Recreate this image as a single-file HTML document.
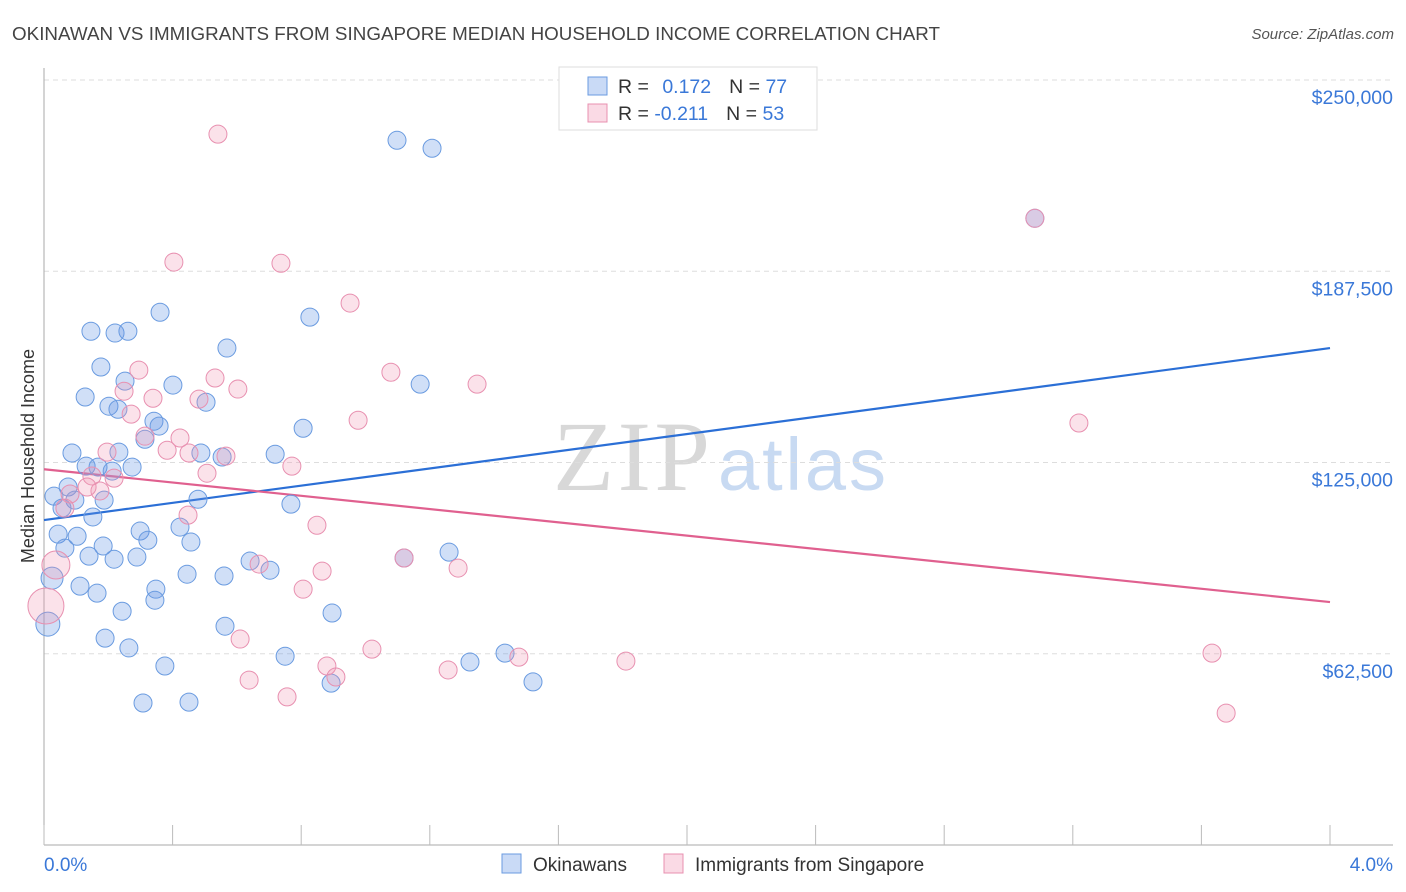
<!DOCTYPE html>
<html><head><meta charset="utf-8"><style>
body{margin:0;background:#fff;font-family:"Liberation Sans",sans-serif;}
svg{display:block}
</style></head><body>
<svg width="1406" height="892" xmlns="http://www.w3.org/2000/svg">
<text x="12" y="40" font-size="18.8" fill="#444" textLength="928">OKINAWAN VS IMMIGRANTS FROM SINGAPORE MEDIAN HOUSEHOLD INCOME CORRELATION CHART</text>
<text x="1394" y="39" font-size="15" fill="#555" text-anchor="end" font-style="italic">Source: ZipAtlas.com</text>
<g>
<text x="553" y="490" font-size="100" font-family="Liberation Serif,serif" fill="#d8d8d8" textLength="157">ZIP</text>
<text x="718" y="490" font-size="74" fill="#c8daf2" textLength="168">atlas</text>
</g>
<g id="grid"></g>
<g id="axes"></g>
<g id="lines"></g>
<g id="pts"></g>
<text transform="translate(34,456) rotate(-90)" font-size="18" fill="#333" text-anchor="middle">Median Household Income</text>
<g>
<rect x="559" y="67" width="258" height="63" fill="#fff" stroke="#ddd"/>
<rect x="588" y="77" width="19" height="18" fill="rgba(100,150,230,0.35)" stroke="#6a9be0"/>
<rect x="588" y="104" width="19" height="18" fill="rgba(240,150,180,0.35)" stroke="#e890b0"/>
<text x="618" y="93" font-size="19.5" fill="#333">R = <tspan fill="#3a78d8" dx="8">0.172</tspan><tspan dx="18" fill="#333">N = </tspan><tspan fill="#3a78d8">77</tspan></text>
<text x="618" y="120" font-size="19.5" fill="#333">R = <tspan fill="#3a78d8">-0.211</tspan><tspan dx="18" fill="#333">N = </tspan><tspan fill="#3a78d8">53</tspan></text>
</g>
<g>
<rect x="502" y="854" width="19" height="19" fill="rgba(100,150,230,0.35)" stroke="#6a9be0"/>
<text x="533" y="871" font-size="19" fill="#333">Okinawans</text>
<rect x="664" y="854" width="19" height="19" fill="rgba(240,150,180,0.35)" stroke="#e890b0"/>
<text x="695" y="871" font-size="19" fill="#333">Immigrants from Singapore</text>
</g>
</svg>
<script>
const yTicks=[62500,125000,187500,250000];
const yTickLabels=["$62,500","$125,000","$187,500","$250,000"];
const xTickLabels=["0.0%","4.0%"];
const blueX=[1.098,1.207,3.082,0.361,0.827,0.146,0.221,0.261,0.569,0.177,0.252,0.401,1.170,0.128,0.202,0.230,0.504,0.342,0.358,0.314,0.806,0.087,0.233,0.488,0.554,0.719,0.131,0.168,0.212,0.274,0.075,0.031,0.096,0.187,0.479,0.768,0.056,0.152,0.423,0.044,0.103,0.299,0.323,0.457,1.260,0.065,0.184,0.140,0.218,0.289,0.641,0.703,1.120,0.445,0.560,0.025,0.112,0.348,0.165,0.345,0.243,0.896,0.563,0.012,0.190,0.264,0.750,1.325,1.434,0.376,0.893,1.521,0.308,0.451];
const blueY=[230.3,227.7,204.8,174.1,172.5,167.9,167.3,167.9,162.4,156.2,151.6,150.3,150.6,146.4,143.4,142.4,144.7,138.5,136.9,132.6,136.2,128.1,128.4,128.1,126.8,127.7,123.8,123.5,122.2,123.5,117.0,114.0,112.7,112.7,113.0,111.4,110.1,107.2,103.9,101.6,100.9,102.6,99.6,99.0,95.7,97.0,97.7,94.4,93.4,94.1,92.8,89.8,93.8,88.5,87.9,87.2,84.6,83.6,82.3,80.0,76.4,75.8,71.5,72.2,67.6,64.4,61.7,59.8,62.7,58.5,52.9,53.3,46.4,46.7];
const blueR=[9,9,9,9,9,9,9,9,9,9,9,9,9,9,9,9,9,9,9,9,9,9,9,9,9,9,9,9,9,9,9,9,9,9,9,9,9,9,9,9,9,9,9,9,9,9,9,9,9,9,9,9,9,9,9,11,9,9,9,9,9,9,9,12,9,9,9,9,9,9,9,9,9,9];
const pinkX=[0.541,0.404,0.737,0.952,0.295,0.532,1.079,1.347,0.603,0.249,0.339,0.482,0.271,0.977,3.219,0.314,0.423,0.196,0.383,0.451,0.566,0.771,0.507,0.149,0.218,0.081,0.174,0.134,0.065,0.448,0.849,0.037,0.669,0.865,1.288,0.806,0.006,0.610,1.020,3.633,1.810,1.477,0.880,1.257,0.638,0.908,0.756,3.677,3.082,1.120];
const pinkY=[232.3,190.5,190.1,177.1,155.2,152.6,154.5,150.6,149.0,148.3,146.0,145.7,140.8,138.8,137.9,133.6,133.0,128.4,129.0,128.1,127.1,123.8,121.5,120.6,119.9,114.7,115.7,117.0,110.1,107.8,104.5,91.5,91.8,89.5,90.5,83.6,78.1,67.3,64.0,62.7,60.1,61.4,58.5,57.2,53.9,54.9,48.4,43.1,204.8,93.8];
const pinkR=[9,9,9,9,9,9,9,9,9,9,9,9,9,9,9,9,9,9,9,9,9,9,9,9,9,9,9,9,9,9,9,14,9,9,9,9,18,9,9,9,9,9,9,9,9,9,9,9,9,9];
const blueTrend=[106.2,162.4];
const pinkTrend=[122.8,79.4];
const NS="http://www.w3.org/2000/svg";
const X0=44,X1=1330,Y0=845,YTOP=80;
function sx(p){return X0+(p/4)*(X1-X0);}
function sy(v){return Y0-(v/250000)*(Y0-YTOP);}
function mk(t,a,p){const e=document.createElementNS(NS,t);for(const k in a)e.setAttribute(k,a[k]);document.getElementById(p).appendChild(e);return e;}
yTicks.forEach((v,i)=>{
 const l=mk('line',{x1:X0,x2:1393,y1:sy(v),y2:sy(v),stroke:'#ddd','stroke-dasharray':'5,4'},'grid');
 
 
 const t=mk('text',{x:1393,y:sy(v)+24,'font-size':19.5,fill:'#3a78d8','text-anchor':'end'},'grid');
 t.textContent=yTickLabels[i];
 
 
});
let ax=mk('line',{x1:X0,x2:X0,y1:68,y2:Y0,stroke:'#aaa'},'axes');


let bx=mk('line',{x1:X0,x2:1393,y1:Y0,y2:Y0,stroke:'#aaa'},'axes');


for(let i=0;i<=10;i++){
 const tk=mk('line',{x1:sx(i*0.4),x2:sx(i*0.4),y1:825,y2:Y0,stroke:'#bbb'},'axes');
 
 
}
[[0,'start',44],[4,'end',1393]].forEach((d,i)=>{
 const t=mk('text',{x:d[2],y:871,'font-size':19,fill:'#3a78d8','text-anchor':d[1]},'axes');
 t.textContent=xTickLabels[i];
 
 
});
function pts(xs,ys,rs,fill,stroke,name){
 xs.forEach((x,i)=>{
  const c=mk('circle',{cx:sx(x),cy:sy(ys[i]*1000),r:rs[i],fill:fill,stroke:stroke,'stroke-width':1},'pts');
  
  
 });
}
pts(blueX,blueY,blueR,'rgba(100,150,230,0.3)','#6a9be0','okinawan-point');
pts(pinkX,pinkY,pinkR,'rgba(240,150,180,0.28)','#e890b0','singapore-point');
let bl=mk('line',{x1:sx(0),y1:sy(blueTrend[0]*1000),x2:sx(4),y2:sy(blueTrend[1]*1000),stroke:'#2b6fd6','stroke-width':2.2},'lines');


let pl=mk('line',{x1:sx(0),y1:sy(pinkTrend[0]*1000),x2:sx(4),y2:sy(pinkTrend[1]*1000),stroke:'#e0608f','stroke-width':2.2},'lines');


</script>
</body></html>
